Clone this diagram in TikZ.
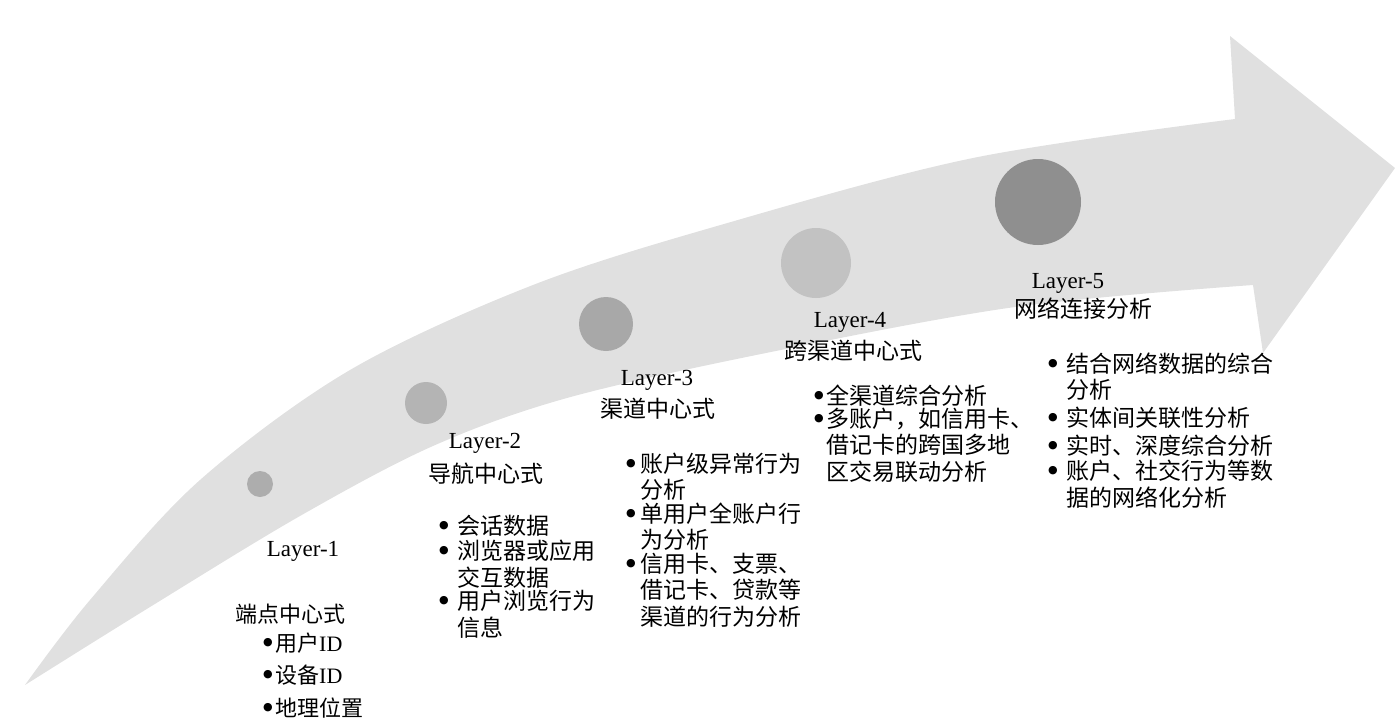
\documentclass[tikz,border=0pt]{standalone}
\usepackage{fontspec}
\setmainfont{Liberation Serif}
\newfontfamily\cjk{Noto Sans CJK SC}
\newfontfamily\dv{DejaVu Sans}
\definecolor{bandgray}{HTML}{E0E0E0}
\definecolor{cA}{HTML}{ADADAD}
\definecolor{cB}{HTML}{B4B4B4}
\definecolor{cC}{HTML}{A8A8A8}
\definecolor{cD}{HTML}{C2C2C2}
\definecolor{cE}{HTML}{8F8F8F}
\newcommand\itm[2]{\makebox[#1pt][l]{\raisebox{5.5pt}{\dv\fontsize{11}{11}\selectfont ●}}\begin{tabular}[t]{@{}l@{}}#2\end{tabular}}
\tikzset{
  dot/.style={circle, inner sep=0pt, draw=none},
  layer/.style={inner sep=0pt, anchor=base, font=\rmfamily\fontsize{23}{25}\selectfont},
  head/.style={inner sep=0pt, anchor=base west, font=\cjk\fontsize{23}{25}\selectfont},
  item/.style={inner sep=0pt, anchor=base west, align=left, font=\cjk\fontsize{23}{25}\selectfont},
}
\begin{document}
\begin{tikzpicture}[x=1pt, y=-1pt]
\useasboundingbox (0,0) rectangle (1398,728);
% band arrow
\fill[bandgray] (25,685)
  -- plot[smooth, tension=0.55] coordinates {(25,685) (90,600) (200,480) (350,370) (533,285) (724,224) (973,158) (1235,119)}
  -- (1230,36) -- (1395,168) -- (1263,353) -- (1253,285)
  -- plot[smooth, tension=0.55] coordinates {(1253,285) (1015,307) (766,353) (567,398) (433,446) (300,516) (150,607) (25,685)}
  -- cycle;
% circles
\node[dot, fill=cA, minimum size=26pt] (c1) at (260,484) {};
\node[dot, fill=cB, minimum size=42pt] (c2) at (426,403) {};
\node[dot, fill=cC, minimum size=54pt] (c3) at (606,324) {};
\node[dot, fill=cD, minimum size=70pt] (c4) at (816,263) {};
\node[dot, fill=cE, minimum size=86pt] (c5) at (1038,202) {};
% Layer 1
\node[layer] (l1) at (303,556) {Layer-1};
\node[head, font=\cjk\fontsize{22}{24}\selectfont] (h1) at (235,622) {端点中心式};
\node[item, font=\cjk\fontsize{22}{24}\selectfont] (i11) at (263,651) {\itm{12}{用户{\rmfamily ID}}};
\node[item, font=\cjk\fontsize{22}{24}\selectfont] (i12) at (263,683) {\itm{12}{设备{\rmfamily ID}}};
\node[item, font=\cjk\fontsize{22}{24}\selectfont] (i13) at (263,716) {\itm{12}{地理位置}};
% Layer 2
\node[layer] (l2) at (485,448) {Layer-2};
\node[head] (h2) at (428,482) {导航中心式};
\node[item] (i21) at (439,534) {\itm{18}{会话数据}};
\node[item] (i22) at (439,559) {\itm{18}{浏览器或应用\\交互数据}};
\node[item] (i23) at (439,609) {\itm{18}{用户浏览行为\\信息}};
% Layer 3
\node[layer] (l3) at (657,385) {Layer-3};
\node[head] (h3) at (600,417) {渠道中心式};
\node[item] (i31) at (626,472) {\itm{14}{账户级异常行为\\分析}};
\node[item] (i32) at (626,522) {\itm{14}{单用户全账户行\\为分析}};
\node[item] (i33) at (626,572) {\itm{14}{信用卡、支票、\\借记卡、贷款等\\渠道的行为分析}};
% Layer 4
\node[layer] (l4) at (850,327) {Layer-4};
\node[head] (h4) at (784,359) {跨渠道中心式};
\node[item] (i41) at (814,404) {\itm{12}{全渠道综合分析}};
\node[item] (i42) at (814,427) {\itm{12}{多账户，如信用卡、\\借记卡的跨国多地\\区交易联动分析}};
% Layer 5
\node[layer] (l5) at (1068,288) {Layer-5};
\node[head] (h5) at (1014,317) {网络连接分析};
\node[item] (i51) at (1048,372) {\itm{18}{结合网络数据的综合\\分析}};
\node[item] (i52) at (1048,426) {\itm{18}{实体间关联性分析}};
\node[item] (i53) at (1048,454) {\itm{18}{实时、深度综合分析}};
\node[item] (i54) at (1048,479) {\itm{18}{账户、社交行为等数\\据的网络化分析}};
\end{tikzpicture}
\end{document}
